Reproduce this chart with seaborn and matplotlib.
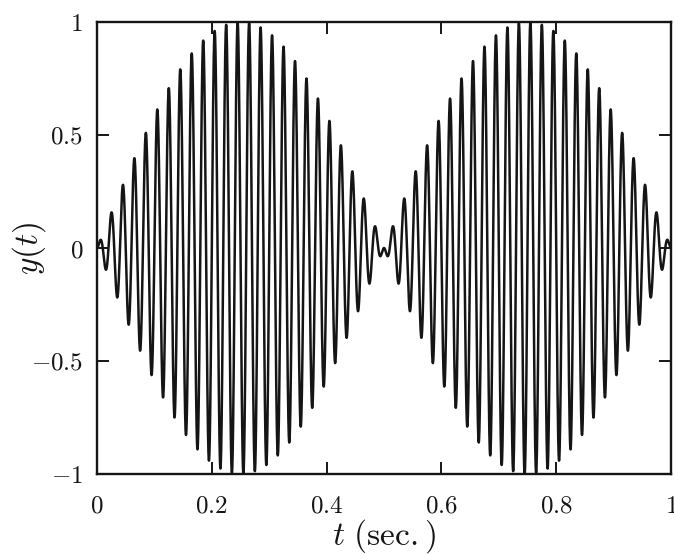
import numpy as np
import pandas as pd
import matplotlib
matplotlib.use("Agg")
import matplotlib.pyplot as plt
import seaborn as sns

# Beat signal: two cosines at neighbouring frequencies (Hz) and their amplitudes
freqs_hz = [49.0, 51.0]
amps = [0.5, -0.5]

x_ticks = [0, 0.2, 0.4, 0.6, 0.8, 1]
x_tick_labels = ["0", "0.2", "0.4", "0.6", "0.8", "1"]
y_ticks = [-1, -0.5, 0, 0.5, 1]
y_tick_labels = ["-1", "-0.5", "0", "0.5", "1"]

sns.set_style("ticks")
plt.rcParams["mathtext.fontset"] = "cm"
plt.rcParams["font.family"] = ["DejaVu Serif"]

t = np.linspace(0.0, 1.0, 8001)
y = sum(a * np.cos(2 * np.pi * f * t) for f, a in zip(freqs_hz, amps))
df = pd.DataFrame({"t": t, "y": y})

ink = "#151515"
fig = plt.figure(figsize=(6.74, 5.54), dpi=100)
ax = fig.add_axes([97 / 674, 1 - 474 / 554, (671 - 97) / 674, (474 - 22) / 554])

sns.lineplot(data=df, x="t", y="y", ax=ax, color=ink, linewidth=1.8,
             estimator=None, sort=False)

ax.set_xlim(0, 1)
ax.set_ylim(-1, 1)
ax.set_xticks(x_ticks)
ax.set_xticklabels([f"${s}$" for s in x_tick_labels])
ax.set_yticks(y_ticks)
ax.set_yticklabels([f"${s}$" for s in y_tick_labels])
ax.tick_params(direction="in", length=8.5, width=1.4, top=True, right=True,
               labelsize=18, colors=ink)
ax.tick_params(axis="x", pad=15)
ax.tick_params(axis="y", pad=10)
for sp in ax.spines.values():
    sp.set_linewidth(1.7)
    sp.set_color(ink)

ax.set_xlabel(r"$t\ (\mathrm{sec.})$", fontsize=24, color=ink)
ax.set_ylabel(r"$y(t)$", fontsize=24, color=ink)
ax.xaxis.set_label_coords(0.5, -0.095)
ax.yaxis.set_label_coords(-0.085, 0.5)

fig.savefig("out.png", dpi=100, facecolor="white")
